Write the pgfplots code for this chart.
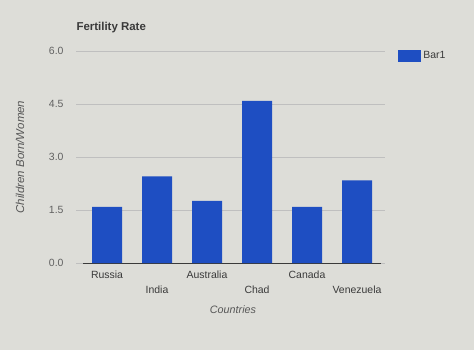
\documentclass[border=0pt]{standalone}
\usepackage{pgfplots}
\pgfplotsset{compat=1.18}
\usepackage{fontspec}
\setmainfont{Liberation Sans}
\definecolor{bg}{HTML}{DDDDD8}
\definecolor{barblue}{HTML}{1E4EC2}
\definecolor{txt}{HTML}{3A3A3A}
\definecolor{grid}{HTML}{B8B8B2}
\begin{document}
\begin{tikzpicture}[x=1bp,y=1bp]
\fill[bg] (0,0) rectangle (474,350);
\begin{axis}[
  at={(76bp,87bp)}, anchor=south west,
  scale only axis, width=309bp, height=212bp,
  xmin=-0.62, xmax=5.56, ymin=0, ymax=6,
  axis x line*=bottom, axis y line*=left,
  x axis line style={draw=txt, line width=0.8pt, -, shorten <=7bp, shorten >=4bp},
  y axis line style={draw=none},
  ytick={0,1.5,3,4.5,6},
  ymajorgrids, xmajorgrids=false, grid style={grid, line width=0.6pt},
  yticklabel style={/pgf/number format/fixed,/pgf/number format/fixed zerofill,/pgf/number format/precision=1, font=\fontsize{10.5}{12}\selectfont, text=txt!80},
  /pgf/number format/assume math mode=true,
  y tick label style={xshift=-9bp},
  xtick={0,1,2,3,4,5},
  xticklabels={{\strut Russia},{\strut\\India},{\strut Australia},{\strut\\Chad},{\strut Canada},{\strut\\Venezuela}},
  xticklabel style={align=center, anchor=north, font=\fontsize{10.5}{15}\selectfont, text=txt, yshift=-1.5bp},
  major tick length=0pt,
  ybar, bar width=30bp,
  legend style={at={(1.033,1.018)}, anchor=north west, draw=none, fill=none, font=\fontsize{10.5}{12}\selectfont, text=txt},
  legend image code/.code={\fill[barblue] (0bp,-6bp) rectangle (23bp,6bp);},
]
\addplot[fill=barblue, draw=none, bar shift=0pt] coordinates {(0,1.59) (1,2.45) (2,1.76) (3,4.59) (4,1.59) (5,2.34)};
\addlegendentry{Bar1}
\end{axis}
\node[anchor=base west, font=\bfseries\fontsize{11.5}{13}\selectfont, text=txt] at (73,320) {Fertility Rate};
\node[rotate=90, font=\itshape\fontsize{11.5}{13}\selectfont, text=txt!85] at (20,193) {Children Born/Women};
\node[font=\itshape\fontsize{10.8}{12}\selectfont, text=txt!85] at (233,40) {Countries};
\end{tikzpicture}
\end{document}
